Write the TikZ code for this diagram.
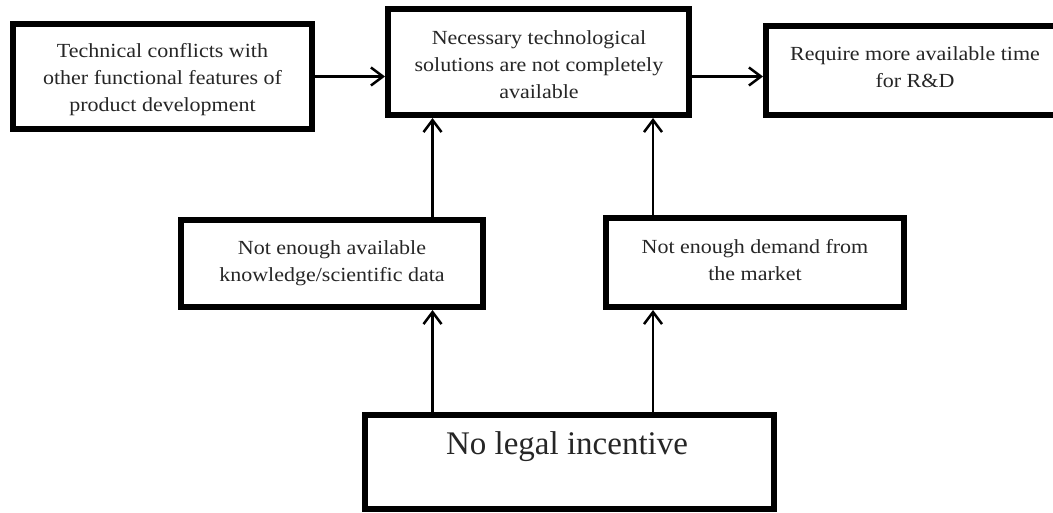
\documentclass[tikz,border=0pt]{standalone}
\usepackage{fontspec}
\setmainfont{Liberation Serif}
\newfontfamily\widefont[FakeStretch=1.1]{Liberation Serif}
\usetikzlibrary{arrows.meta}
\begin{document}
\begin{tikzpicture}[x=1pt,y=-1pt,
  box/.style={draw=black, line width=6pt, fill=white, inner sep=0pt},
  txt/.style={align=center, font=\widefont\fontsize{20}{27}\selectfont, text=black!85, inner sep=0pt},
  arr/.style={draw=black, line width=2.5pt, -{Straight Barb[length=12pt,width=18pt,line width=2.5pt]}}]
\useasboundingbox (0,0) rectangle (1053,513);
\clip (0,0) rectangle (1053,513);
\fill[white] (0,0) rectangle (1053,513);
% boxes
\node[box, minimum width=299pt, minimum height=105pt] (b1) at (162.5,76.5) {};
\node[box, minimum width=301pt, minimum height=106pt] (b2) at (538.5,62) {};
\node[box, minimum width=298pt, minimum height=89pt] (b3) at (915,70.5) {};
\node[box, minimum width=302pt, minimum height=87pt] (b4) at (332,263.5) {};
\node[box, minimum width=298pt, minimum height=89pt] (b5) at (755,262.5) {};
\node[box, minimum width=409pt, minimum height=94pt] (b6) at (569.5,462) {};
% texts
\node[txt] (t1) at (162.5,80) {Technical conflicts with\\other functional features of\\product development};
\node[txt] (t2) at (539,65) {Necessary technological\\solutions are not completely\\available};
\node[txt] (t3) at (915,67) {Require more available time\\for R\&D};
\node[txt] (t4) at (332,263) {Not enough available\\knowledge/scientific data};
\node[txt] (t5) at (755,260) {Not enough demand from\\the market};
\node[txt, font=\fontsize{33}{38}\selectfont] (t6) at (567,447) {No legal incentive};
% connector columns
\coordinate (cl) at (432.5,0);
\coordinate (cr) at (653,0);
% arrows
\draw[arr] (b1.east) -- (b1.east -| b2.west);
\draw[arr] (b1.east -| b2.east) -- (b1.east -| b3.west);
\draw[arr] (b4.north -| cl) -- (b2.south -| cl);
\draw[arr] (b5.north -| cr) -- (b2.south -| cr);
\draw[arr] (b6.north -| cl) -- (b4.south -| cl);
\draw[arr] (b6.north -| cr) -- (b5.south -| cr);
\end{tikzpicture}
\end{document}
